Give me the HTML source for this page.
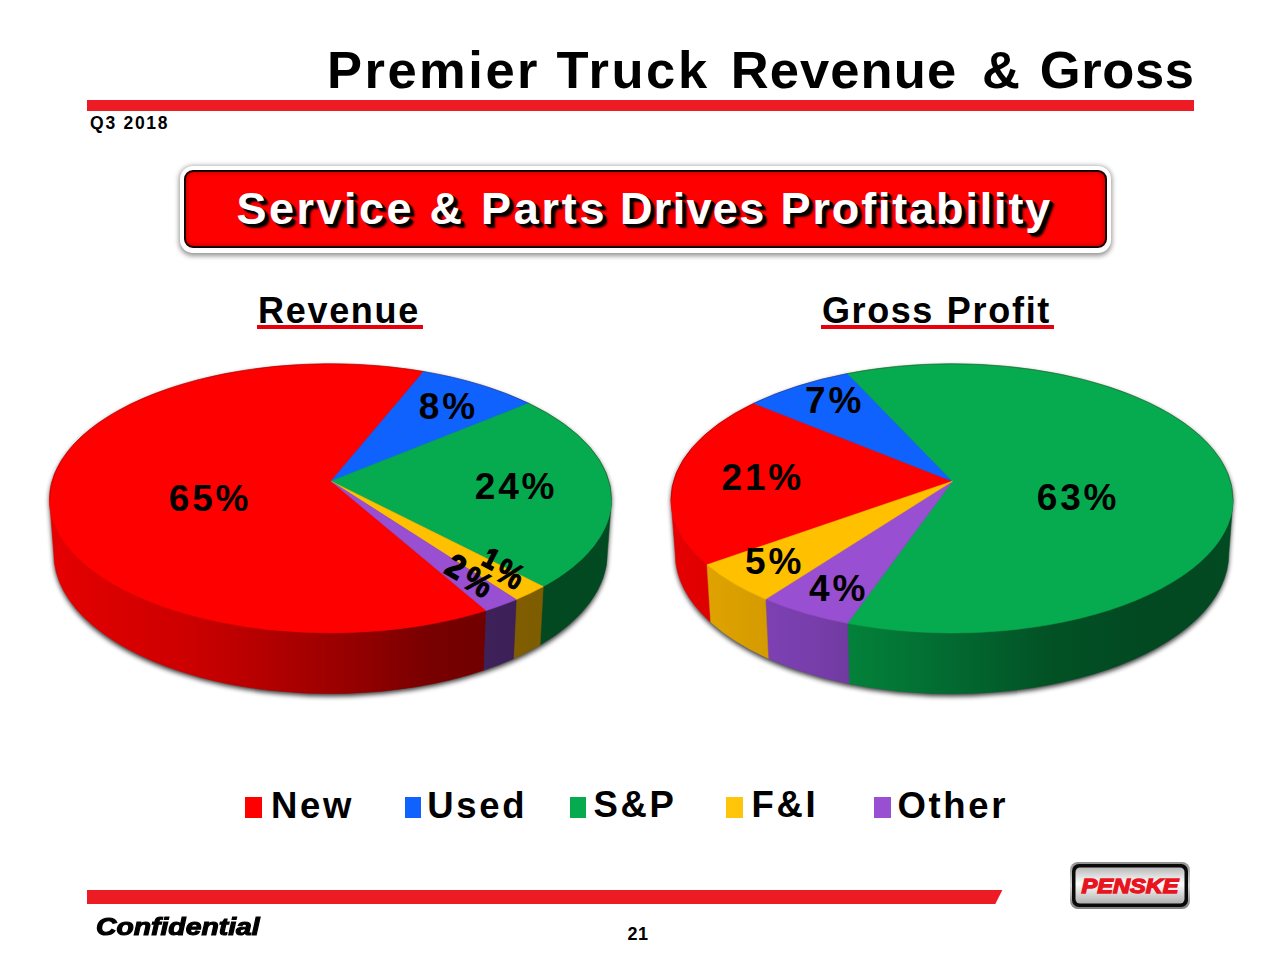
<!DOCTYPE html>
<html lang="en">
<head>
<meta charset="utf-8">
<title>Premier Truck Revenue &amp; Gross</title>
<style>
html,body{margin:0;padding:0;background:#fff;}
body{width:1280px;height:960px;position:relative;overflow:hidden;font-family:"Liberation Sans",Arial,Helvetica,sans-serif;color:#000;}
.abs{position:absolute;white-space:nowrap;line-height:1;}
.title{left:0;top:43.9px;font-size:52.5px;font-weight:bold;}
.w span{position:absolute;top:0;left:0;}
.rule{left:87px;top:100px;width:1107px;height:10.5px;background:#ed1c24;}
.q{left:90.1px;top:115.3px;font-size:17.5px;font-weight:bold;letter-spacing:1.72px;}
.banner{left:179.5px;top:165.5px;width:931.6px;height:87.5px;box-sizing:border-box;background:#fff;border-radius:13px;box-shadow:0 1.5px 5px 1px rgba(0,0,0,.42);}
.banner i{position:absolute;left:4.5px;top:4.5px;right:4.5px;bottom:5px;background:#fe0000;border:2.5px solid #1a0000;border-radius:9px;box-sizing:border-box;box-shadow:inset 0 0 5px rgba(110,0,0,.55);}
.btxt{left:0;top:186px;font-size:45px;font-weight:bold;color:#fff;text-shadow:4.5px 4px 2px rgba(0,0,0,.85),3.5px 3px 1px #000,2.5px 2px 0 #000,1px 1px 0 #000;}
.h2{left:0;font-size:36px;font-weight:bold;top:292.5px;}
.h2 u{position:absolute;top:32.6px;height:3.5px;background:#e8000a;}
.leg{top:787.6px;font-size:36.5px;font-weight:bold;letter-spacing:2.7px;}
.sq{position:absolute;top:797.2px;width:16.5px;height:20.5px;}
.bar{left:87px;top:889.7px;width:916px;height:14.2px;background:#ed1c24;clip-path:polygon(0 0,915.5px 0,908.3px 100%,0 100%);}
.conf{left:96px;top:914.8px;font-size:24px;font-weight:bold;font-style:italic;transform-origin:0 0;transform:scaleX(1.18);-webkit-text-stroke:1.1px #000;}
.pg{left:627.5px;top:924.5px;font-size:18px;font-weight:bold;letter-spacing:.6px;}
svg.pies{position:absolute;left:0;top:0;}
svg.pies .lbl text{font-family:"Liberation Sans",Arial,sans-serif;font-weight:bold;font-size:37px;letter-spacing:2.8px;fill:#000;}
svg.pies .lbl text.rot{letter-spacing:0;stroke:#000;}
.logo{position:absolute;left:1066px;top:858px;}
</style>
</head>
<body>
<div class="abs title w"><span style="left:326.9px;letter-spacing:2.52px">Premier</span> <span style="left:556.6px;letter-spacing:2.61px">Truck</span> <span style="left:730.7px;letter-spacing:1.1px">Revenue</span> <span style="left:982px">&amp;</span> <span style="left:1039.8px;letter-spacing:.63px">Gross</span></div>
<div class="abs rule"></div>
<div class="abs q">Q3 2018</div>
<div class="abs banner"><i></i></div>
<div class="abs btxt w"><span style="left:236.6px;letter-spacing:2.48px">Service</span> <span style="left:429.6px">&amp;</span> <span style="left:481.1px;letter-spacing:2.72px">Parts</span> <span style="left:620px;letter-spacing:1.32px">Drives</span> <span style="left:780.6px;letter-spacing:1.85px">Profitability</span></div>
<div class="abs h2 w"><span style="left:258px;letter-spacing:1.7px">Revenue</span><u style="left:256.9px;width:166px"></u></div>
<div class="abs h2 w"><span style="left:822px;letter-spacing:1.57px">Gross</span> <span style="left:946.8px;letter-spacing:1.71px">Profit</span><u style="left:821.2px;width:232.6px"></u></div>
<svg class="pies" width="1280" height="960" viewBox="0 0 1280 960">
<defs>
<filter id="blur" x="-5%" y="-5%" width="110%" height="110%"><feGaussianBlur stdDeviation="2.8"/></filter>
<linearGradient id="w330red" gradientUnits="userSpaceOnUse" x1="49.5" y1="0" x2="611.5" y2="0"><stop offset="0.0000" stop-color="#e60000"/><stop offset="0.2509" stop-color="#cc0000"/><stop offset="0.4288" stop-color="#ab0000"/><stop offset="0.5712" stop-color="#8f0000"/><stop offset="0.6779" stop-color="#780000"/><stop offset="0.8559" stop-color="#6b0000"/><stop offset="1.0000" stop-color="#6e0000"/></linearGradient>
<linearGradient id="w330blue" gradientUnits="userSpaceOnUse" x1="49.5" y1="0" x2="611.5" y2="0"><stop offset="0.0000" stop-color="#0e58e5"/><stop offset="0.2509" stop-color="#0c4ecb"/><stop offset="0.4288" stop-color="#0a42aa"/><stop offset="0.5712" stop-color="#08378e"/><stop offset="0.6779" stop-color="#072e77"/><stop offset="0.8559" stop-color="#06296b"/><stop offset="1.0000" stop-color="#062a6d"/></linearGradient>
<linearGradient id="w330green" gradientUnits="userSpaceOnUse" x1="49.5" y1="0" x2="611.5" y2="0"><stop offset="0.0000" stop-color="#049b46"/><stop offset="0.2509" stop-color="#038a3e"/><stop offset="0.4288" stop-color="#037334"/><stop offset="0.5712" stop-color="#02602c"/><stop offset="0.6779" stop-color="#025125"/><stop offset="0.8559" stop-color="#024821"/><stop offset="1.0000" stop-color="#024a22"/></linearGradient>
<linearGradient id="w330yellow" gradientUnits="userSpaceOnUse" x1="49.5" y1="0" x2="611.5" y2="0"><stop offset="0.0000" stop-color="#ffc600"/><stop offset="0.2509" stop-color="#f1b000"/><stop offset="0.4288" stop-color="#ca9300"/><stop offset="0.5712" stop-color="#a97b00"/><stop offset="0.6779" stop-color="#8d6700"/><stop offset="0.8559" stop-color="#7e5c00"/><stop offset="1.0000" stop-color="#815e00"/></linearGradient>
<linearGradient id="w330purple" gradientUnits="userSpaceOnUse" x1="49.5" y1="0" x2="611.5" y2="0"><stop offset="0.0000" stop-color="#8043b7"/><stop offset="0.2509" stop-color="#723ba3"/><stop offset="0.4288" stop-color="#5f3288"/><stop offset="0.5712" stop-color="#502972"/><stop offset="0.6779" stop-color="#432360"/><stop offset="0.8559" stop-color="#3c1f55"/><stop offset="1.0000" stop-color="#3d2057"/></linearGradient>

<linearGradient id="w952red" gradientUnits="userSpaceOnUse" x1="671" y1="0" x2="1233" y2="0"><stop offset="0.0000" stop-color="#e60000"/><stop offset="0.2509" stop-color="#cc0000"/><stop offset="0.4288" stop-color="#ab0000"/><stop offset="0.5712" stop-color="#8f0000"/><stop offset="0.6779" stop-color="#780000"/><stop offset="0.8559" stop-color="#6b0000"/><stop offset="1.0000" stop-color="#6e0000"/></linearGradient>
<linearGradient id="w952blue" gradientUnits="userSpaceOnUse" x1="671" y1="0" x2="1233" y2="0"><stop offset="0.0000" stop-color="#0e58e5"/><stop offset="0.2509" stop-color="#0c4ecb"/><stop offset="0.4288" stop-color="#0a42aa"/><stop offset="0.5712" stop-color="#08378e"/><stop offset="0.6779" stop-color="#072e77"/><stop offset="0.8559" stop-color="#06296b"/><stop offset="1.0000" stop-color="#062a6d"/></linearGradient>
<linearGradient id="w952green" gradientUnits="userSpaceOnUse" x1="671" y1="0" x2="1233" y2="0"><stop offset="0.0000" stop-color="#049b46"/><stop offset="0.2509" stop-color="#038a3e"/><stop offset="0.4288" stop-color="#037334"/><stop offset="0.5712" stop-color="#02602c"/><stop offset="0.6779" stop-color="#025125"/><stop offset="0.8559" stop-color="#024821"/><stop offset="1.0000" stop-color="#024a22"/></linearGradient>
<linearGradient id="w952yellow" gradientUnits="userSpaceOnUse" x1="671" y1="0" x2="1233" y2="0"><stop offset="0.0000" stop-color="#e6a700"/><stop offset="0.2509" stop-color="#cc9500"/><stop offset="0.4288" stop-color="#ab7d00"/><stop offset="0.5712" stop-color="#8f6800"/><stop offset="0.6779" stop-color="#785700"/><stop offset="0.8559" stop-color="#6b4e00"/><stop offset="1.0000" stop-color="#6e5000"/></linearGradient>
<linearGradient id="w952purple" gradientUnits="userSpaceOnUse" x1="671" y1="0" x2="1233" y2="0"><stop offset="0.0000" stop-color="#8746c1"/><stop offset="0.2509" stop-color="#783eab"/><stop offset="0.4288" stop-color="#64348f"/><stop offset="0.5712" stop-color="#542c78"/><stop offset="0.6779" stop-color="#462565"/><stop offset="0.8559" stop-color="#3f215a"/><stop offset="1.0000" stop-color="#40225c"/></linearGradient>

</defs>
<g>
<path d="M49.5 499.4 A281 135.6 0 0 1 611.5 499.4 L607.3 553.5 A276.8 140.25 0 0 1 53.7 553.5 Z" fill="#000" opacity=".8" filter="url(#blur)" transform="translate(0,2.5)"/>
<path d="M486.25 610.52 A281 133.5 0 0 1 49.5 499.4 L53.7 553.5 A276.8 140.25 0 0 0 483.92 670.24 Z" fill="url(#w330red)" stroke="url(#w330red)" stroke-width=".5"/>
<path d="M611.5 499.4 A281 133.5 0 0 1 543.25 586.61 L540.07 645.12 A276.8 140.25 0 0 0 607.3 553.5 Z" fill="url(#w330green)" stroke="url(#w330green)" stroke-width=".5"/>
<path d="M543.25 586.61 A281 133.5 0 0 1 516.25 599.57 L513.47 658.74 A276.8 140.25 0 0 0 540.07 645.12 Z" fill="url(#w330yellow)" stroke="url(#w330yellow)" stroke-width=".5"/>
<path d="M516.25 599.57 A281 133.5 0 0 1 486.25 610.52 L483.92 670.24 A276.8 140.25 0 0 0 513.47 658.74 Z" fill="url(#w330purple)" stroke="url(#w330purple)" stroke-width=".5"/>
<path d="M331 481.2 L486.25 610.52 A281 133.5 0 0 1 49.5 499.4 A281 135.6 0 0 1 423.75 371.48 Z" fill="#ff0000" stroke="#ff0000" stroke-width=".6"/>
<path d="M331 481.2 L423.75 371.48 A281 135.6 0 0 1 528.75 403.3 Z" fill="#0f62fe" stroke="#0f62fe" stroke-width=".6"/>
<path d="M331 481.2 L528.75 403.3 A281 135.6 0 0 1 611.5 499.4 A281 133.5 0 0 1 543.25 586.61 Z" fill="#06ab4f" stroke="#06ab4f" stroke-width=".6"/>
<path d="M331 481.2 L543.25 586.61 A281 133.5 0 0 1 516.25 599.57 Z" fill="#ffc000" stroke="#ffc000" stroke-width=".6"/>
<path d="M331 481.2 L516.25 599.57 A281 133.5 0 0 1 486.25 610.52 Z" fill="#984fd1" stroke="#984fd1" stroke-width=".6"/>
<path d="M49.5 499.4 A281 135.6 0 0 1 611.5 499.4" fill="none" stroke="#400" stroke-opacity=".35" stroke-width=".9"/>
</g>
<g>
<path d="M671 499.4 A281 135.6 0 0 1 1233 499.4 L1228.8 553.5 A276.8 140.25 0 0 1 675.2 553.5 Z" fill="#000" opacity=".8" filter="url(#blur)" transform="translate(0,2.5)"/>
<path d="M707 564.78 A281 133.5 0 0 1 671 499.4 L675.2 553.5 A276.8 140.25 0 0 0 710.66 622.18 Z" fill="url(#w952red)" stroke="url(#w952red)" stroke-width=".5"/>
<path d="M1233 499.4 A281 133.5 0 0 1 847.5 623.33 L849.06 683.69 A276.8 140.25 0 0 0 1228.8 553.5 Z" fill="url(#w952green)" stroke="url(#w952green)" stroke-width=".5"/>
<path d="M847.5 623.33 A281 133.5 0 0 1 765.5 599.26 L768.29 658.41 A276.8 140.25 0 0 0 849.06 683.69 Z" fill="url(#w952purple)" stroke="url(#w952purple)" stroke-width=".5"/>
<path d="M765.5 599.26 A281 133.5 0 0 1 707 564.78 L710.66 622.18 A276.8 140.25 0 0 0 768.29 658.41 Z" fill="url(#w952yellow)" stroke="url(#w952yellow)" stroke-width=".5"/>
<path d="M952.5 481.2 L707 564.78 A281 133.5 0 0 1 671 499.4 A281 135.6 0 0 1 753.75 403.3 Z" fill="#ff0000" stroke="#ff0000" stroke-width=".6"/>
<path d="M952.5 481.2 L753.75 403.3 A281 135.6 0 0 1 847.5 373.53 Z" fill="#0f62fe" stroke="#0f62fe" stroke-width=".6"/>
<path d="M952.5 481.2 L847.5 373.53 A281 135.6 0 0 1 1233 499.4 A281 133.5 0 0 1 847.5 623.33 Z" fill="#06ab4f" stroke="#06ab4f" stroke-width=".6"/>
<path d="M952.5 481.2 L847.5 623.33 A281 133.5 0 0 1 765.5 599.26 Z" fill="#984fd1" stroke="#984fd1" stroke-width=".6"/>
<path d="M952.5 481.2 L765.5 599.26 A281 133.5 0 0 1 707 564.78 Z" fill="#ffc000" stroke="#ffc000" stroke-width=".6"/>
<path d="M671 499.4 A281 135.6 0 0 1 1233 499.4" fill="none" stroke="#400" stroke-opacity=".35" stroke-width=".9"/>
</g>
<g class="lbl">
<text x="168.8" y="510.8">65%</text>
<text x="418.8" y="419.3">8%</text>
<text x="474.8" y="499.4">24%</text>
<text class="rot" transform="translate(443,572.2) rotate(30) scale(.84,.92)"><tspan font-size="36" stroke-width="1.6">2</tspan><tspan dx="5.6" dy="2.8" stroke-width="1.2">%</tspan></text>
<text class="rot" transform="translate(480.5,564) rotate(28) scale(.8,.94)"><tspan font-size="30" stroke-width="2">1</tspan><tspan dx="5.6" dy="7.2" stroke-width="1.2">%</tspan></text>
<text x="805" y="412.8">7%</text>
<text x="721.5" y="490.2">21%</text>
<text x="745" y="574.3">5%</text>
<text x="809" y="600.6">4%</text>
<text x="1036.8" y="510">63%</text>
</g>
</svg><span class="sq" style="left:245.4px;background:#fe0000"></span><div class="abs leg" style="left:271px">New</div>
<span class="sq" style="left:404.8px;background:#0f62fe"></span><div class="abs leg" style="left:427.3px;top:788.4px">Used</div>
<span class="sq" style="left:569.8px;background:#06ab4f"></span><div class="abs leg" style="left:593.5px;top:786.8px">S&amp;P</div>
<span class="sq" style="left:726.2px;background:#ffc50a"></span><div class="abs leg" style="left:751.4px;top:787.2px">F&amp;I</div>
<span class="sq" style="left:874.2px;background:#984fd1"></span><div class="abs leg" style="left:897.4px">Other</div>
<div class="abs bar"></div>
<div class="abs conf">Confidential</div>
<div class="abs pg">21</div>
<svg class="logo" width="130" height="56" viewBox="0 0 130 56">
<defs>
<linearGradient id="lgo" x1="0" y1="0" x2="0" y2="1"><stop offset="0" stop-color="#8f8f8f"/><stop offset=".5" stop-color="#d8d8d8"/><stop offset="1" stop-color="#7e7e7e"/></linearGradient>
<linearGradient id="lgi" x1="0" y1="0" x2="0" y2="1"><stop offset="0" stop-color="#b9b9b9"/><stop offset=".45" stop-color="#ffffff"/><stop offset="1" stop-color="#b0b0b0"/></linearGradient>
</defs>
<rect x="4" y="4" width="120" height="47" rx="8" fill="url(#lgo)"/>
<rect x="6" y="6" width="116" height="43" rx="7" fill="#0a0a0a"/>
<rect x="9.5" y="9.5" width="109" height="36" rx="4.5" fill="url(#lgi)"/>
<text x="64" y="35.4" text-anchor="middle" font-family="Liberation Sans,Arial,sans-serif" font-weight="bold" font-style="italic" font-size="20.5" fill="#e8141e" stroke="#e8141e" stroke-width="1.3" textLength="97" lengthAdjust="spacingAndGlyphs">PENSKE</text>
</svg>
</body>
</html>
